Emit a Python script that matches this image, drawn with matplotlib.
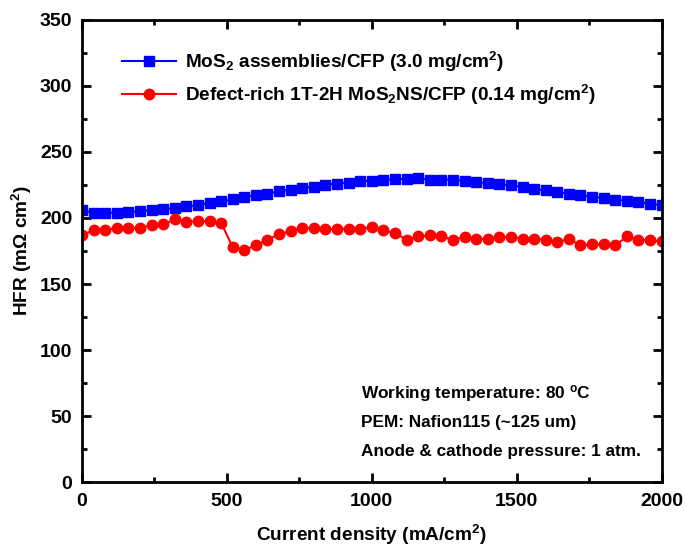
import numpy as np
import matplotlib.pyplot as plt

plt.rcParams['font.family'] = ['Liberation Sans', 'DejaVu Sans']
plt.rcParams['font.weight'] = 'bold'
plt.rcParams['mathtext.fontset'] = 'custom'
plt.rcParams['mathtext.rm'] = 'Liberation Sans:bold'
plt.rcParams['mathtext.bf'] = 'Liberation Sans:bold'
plt.rcParams['mathtext.it'] = 'Liberation Sans:bold'
plt.rcParams['mathtext.default'] = 'bf'

# current density, mA/cm2 (every 40 mA/cm2)
current = np.arange(0, 2001, 40)

hfr_assemblies = [205.8, 203.9, 203.9, 204.1, 204.5, 205.3, 205.8, 206.5, 207.8, 208.8,
                  209.6, 211.6, 212.6, 214.1, 215.9, 217.2, 218.4, 220.2, 221.5, 223.0,
                  223.5, 225.3, 226.0, 226.8, 227.8, 228.3, 229.1, 229.2, 229.8, 230.0,
                  229.1, 229.1, 229.0, 228.0, 227.3, 226.5, 225.5, 224.8, 223.5, 221.7,
                  221.0, 219.7, 218.4, 217.2, 215.9, 215.2, 213.9, 212.9, 212.1, 210.9,
                  209.6]

hfr_defect = [187.0, 190.6, 191.0, 192.3, 192.3, 192.5, 194.4, 195.1, 198.9, 197.0,
              197.5, 197.7, 196.4, 177.9, 175.9, 179.2, 183.7, 187.5, 190.0, 192.5,
              192.5, 191.3, 191.8, 191.8, 191.8, 193.0, 190.6, 188.5, 183.7, 186.0,
              186.8, 186.0, 183.5, 185.5, 184.2, 184.0, 185.5, 185.5, 184.2, 184.2,
              183.5, 181.7, 184.2, 179.2, 180.0, 180.0, 179.2, 186.0, 183.5, 183.0,
              182.5]

notes = ['Working temperature: 80 $^o$C', 'PEM: Nafion115 (~125 um)',
         'Anode & cathode pressure: 1 atm.']

fig = plt.figure(figsize=(6.86, 5.55), dpi=100)
ax = fig.add_axes([0.1195, 0.1315, 0.845, 0.8325])

ax.plot(current, hfr_assemblies, color='#0000ff', marker='s', markersize=6.5, lw=1.5,
        label=r'MoS$_2$ assemblies/CFP (3.0 mg/cm$^2$)')
ax.plot(current, hfr_defect, color='#ff0000', marker='o', markersize=7.5, lw=1.5,
        label=r'Defect-rich 1T-2H MoS$_2$NS/CFP (0.14 mg/cm$^2$)')

ax.set_xlim(0, 2000)
ax.set_ylim(0, 350)
ax.set_xticks(np.arange(0, 2001, 500))
ax.set_xticks(np.arange(0, 2001, 250), minor=True)
ax.set_yticks(np.arange(0, 351, 50))
ax.set_yticks(np.arange(0, 351, 25), minor=True)
ax.tick_params(which='both', direction='in', top=True, right=True, width=2, labelsize=14)
ax.tick_params(which='major', length=6.5)
ax.tick_params(which='minor', length=3.5)
ax.tick_params(axis='x', which='major', pad=8)
ax.tick_params(axis='y', which='major', pad=7)
for s in ax.spines.values():
    s.set_linewidth(2)

ax.set_xlabel(r'Current density (mA/cm$^2$)', fontsize=13.7, fontweight='bold', labelpad=9)
ax.set_ylabel(r'HFR (m$\Omega$ cm$^2$)', fontsize=13.7, fontweight='bold', labelpad=4.5)

leg = ax.legend(loc='upper left', frameon=False, fontsize=13.7, handlelength=2.8,
                labelspacing=0.45, bbox_to_anchor=(0.04, 0.972), handletextpad=0.5)

for i, t in enumerate(notes):
    ax.text(962, 67 - i * 22, t, fontsize=12.4, fontweight='bold', va='center')

fig.savefig('out.png', dpi=100)
